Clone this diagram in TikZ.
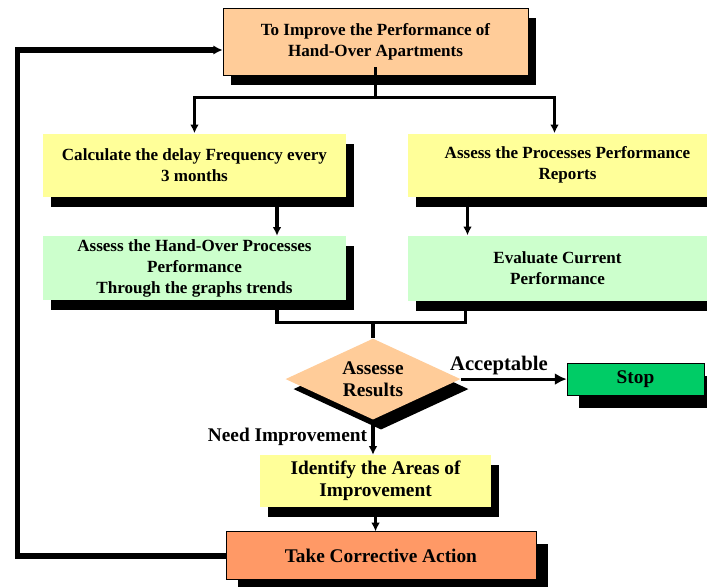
\documentclass[tikz,border=0pt]{standalone}
\usepackage{fontspec}
\setmainfont{Liberation Serif}
\usepackage{tikz}
\usetikzlibrary{arrows.meta, positioning, shapes.geometric, shadows, calc}
\definecolor{peach}{HTML}{FFCC99}
\definecolor{paleyellow}{HTML}{FFFF99}
\definecolor{mint}{HTML}{CCFFCC}
\definecolor{stopgreen}{HTML}{00CC66}
\definecolor{salmon}{HTML}{FF9966}
\tikzset{%
	blackshadow/.style={drop shadow={shadow xshift=6pt, shadow yshift=-7.5pt, fill=black, opacity=1}},
	bigshadow/.style={drop shadow={shadow xshift=9pt, shadow yshift=-9.5pt, fill=black, opacity=1}},
	smalltext/.style={font=\fontsize{12.8}{15.75}\selectfont\bfseries},
	bigtext/.style={font=\fontsize{14.5}{16.5}\selectfont\bfseries},
	goalbox/.style={draw, rectangle, fill=peach, blackshadow, smalltext, align=center,%
		inner sep=0pt, minimum width=228.75pt, minimum height=50.25pt},
	yellowbox/.style={rectangle, fill=paleyellow, blackshadow, smalltext, align=center,%
		inner sep=0pt, minimum height=47.25pt},
	greenbox/.style={rectangle, fill=mint, blackshadow, smalltext, align=center,%
		inner sep=0pt, minimum height=48pt},
	decision/.style={diamond, aspect=2.16, fill=peach, blackshadow, bigtext, align=center,%
		inner sep=0pt, minimum width=131.25pt, minimum height=60.75pt},
	stopbox/.style={draw, rectangle, fill=stopgreen, bigshadow, bigtext,%
		minimum width=102.75pt, minimum height=24pt},
	actionbox/.style={draw, rectangle, fill=salmon, bigshadow, bigtext,%
		minimum width=232.5pt, minimum height=36pt},
	conn/.style={line width=2.3pt},
	flow/.style={conn, -{Latex[length=6.5pt,width=6.5pt]}},
	feedback/.style={line width=4.3pt, -{Latex[length=7pt,width=7pt]}}
}

\begin{document}
\begin{tikzpicture}
	\useasboundingbox (0,0) rectangle (530.25pt,-439.5pt);
	\node[goalbox] at (281.6pt,-31.1pt) (goal) {To Improve the Performance of\\Hand-Over Apartments};
	\node[yellowbox, minimum width=227.25pt, below=43.5pt of goal, xshift=-135.75pt] (calc) {Calculate the delay Frequency every\\3 months};
	\node[yellowbox, minimum width=240pt, right=45.75pt of calc] (reports) {Assess the Processes Performance\\Reports};
	\node[greenbox, minimum width=227.25pt, below=29.25pt of calc] (trends) {Assess the Hand-Over Processes\\Performance\\Through the graphs trends};
	\node[greenbox, minimum width=225pt, minimum height=48.75pt, right=45.75pt of trends] (evaluate) {Evaluate Current\\Performance};
	\node[decision, below=28.5pt of trends, xshift=133.9pt] (assess) {Assesse\\Results};
	\node[stopbox, right=79.5pt of assess] (stop) {Stop};
	\node[yellowbox, bigtext, minimum width=173.25pt, minimum height=39pt, below=26.25pt of assess, xshift=1.9pt] (identify) {Identify the Areas of\\Improvement};
	\node[actionbox, below=18pt of identify, xshift=4pt] (corrective) {Take Corrective Action};

	\coordinate (split) at ([yshift=-16.5pt]goal.south);
	\coordinate (join) at ([yshift=12pt]assess.north);

	\draw[conn] ([yshift=6pt]goal.south) to (split);
	\draw[flow] (split) -| (calc.north);
	\draw[flow] (split) -| ([xshift=-9.75pt]reports.north);
	\draw[flow] ([xshift=61.9pt]calc.south) to ([xshift=61.9pt]trends.north);
	\draw[flow] ([xshift=-75pt]reports.south) to ([xshift=-67.5pt]evaluate.north);
	\draw[conn] ([xshift=61.9pt]trends.south) |- (join) -| ([xshift=-69pt]evaluate.south);
	\draw[conn] (join) to (assess.north);
	\draw[conn, -{Latex[length=9pt,width=9pt]}] (assess.east) to node[above, pos=0.36, font=\fontsize{15.5}{18}\selectfont\bfseries, inner sep=2pt]{Acceptable} (stop.west);
	\draw[flow] (assess.south) to node[left, bigtext]{Need Improvement} (assess.south |- identify.north);
	\draw[flow] (identify.south) to (identify.south |- corrective.north);
	\draw[feedback] (corrective.west) -- ++(-156pt,0) |- ([yshift=-6.4pt]goal.west);
\end{tikzpicture}
\end{document}
